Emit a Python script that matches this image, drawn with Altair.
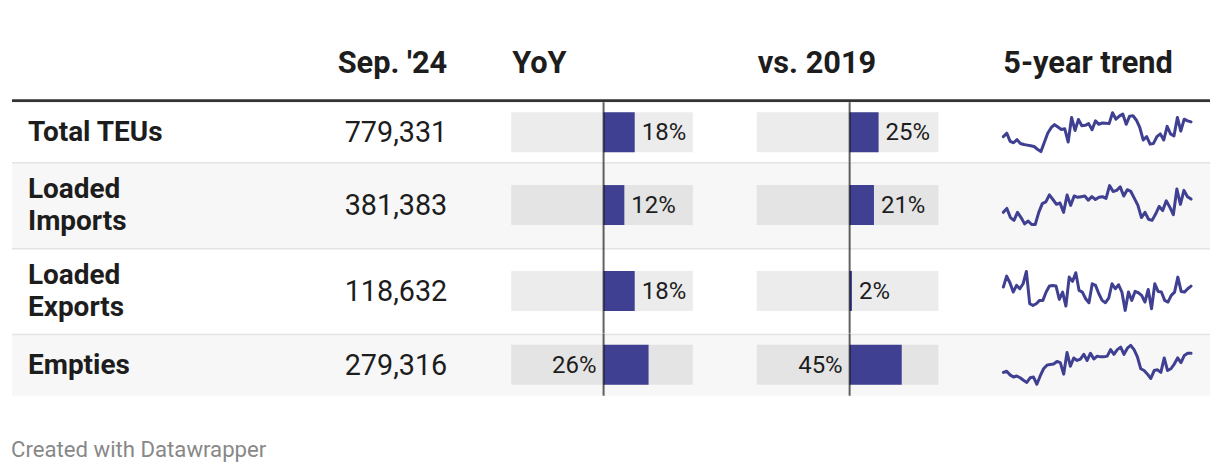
import altair as alt
import pandas as pd

# ---------------- data ----------------
rows = ["Total TEUs", "Loaded\nImports", "Loaded\nExports", "Empties"]
sep24 = [779331, 381383, 118632, 279316]
yoy = [18, 12, 18, 26]
vs2019 = [25, 21, 2, 45]
headers = ["Sep. '24", "YoY", "vs. 2019", "5-year trend"]
footer = "Created with Datawrapper"

# monthly TEUs (thousands), read from the sparklines
trend_total = [650, 680, 608, 596, 623, 590, 581, 575, 569, 563, 539, 518, 599, 680,
               728, 755, 734, 713, 719, 602, 818, 704, 800, 746, 749, 764, 710, 788,
               758, 770, 767, 764, 860, 803, 830, 848, 758, 830, 833, 794, 728, 620,
               650, 584, 590, 650, 674, 620, 740, 674, 656, 818, 698, 803, 788, 779]
trend_imports = [320, 338, 296, 283, 320, 296, 267, 280, 264, 264, 320, 360, 368, 400,
                 379, 357, 363, 320, 400, 352, 395, 389, 392, 395, 376, 392, 379, 389,
                 392, 384, 443, 416, 421, 437, 395, 424, 416, 384, 352, 296, 320, 288,
                 283, 312, 347, 328, 373, 344, 309, 427, 357, 421, 392, 381]
trend_exports = [117.4, 130.6, 122.6, 111.4, 119.4, 115.4, 121.4, 136.2, 97.4, 95.4,
                 97.4, 101.4, 101.4, 111.4, 118.6, 119.4, 118.6, 102.6, 111.4, 94.6,
                 129.4, 124.2, 134.6, 113.4, 111.4, 103.4, 98.6, 121.4, 119.4, 109.4,
                 101.4, 98.6, 104.2, 121.4, 115.4, 120.2, 111.4, 89.4, 111.4, 101.4,
                 112.2, 110.6, 107.4, 99.4, 114.6, 91.4, 121.4, 112.2, 111.4, 101.4,
                 99.4, 107.4, 111.4, 129.4, 112.2, 111.4, 115.4, 118.6]
trend_empties = [215.7, 219.3, 207.3, 200.1, 203.7, 197.7, 189.3, 182.1, 197.7, 200.1,
                 176.1, 203.7, 227.7, 239.7, 242.1, 243.3, 251.7, 248.1, 209.7, 281.7,
                 236.1, 263.7, 255.3, 260.1, 275.7, 255.3, 279.3, 260.1, 269.7, 267.3,
                 267.3, 269.7, 291.3, 275.7, 291.3, 299.7, 275.7, 296.1, 305.7, 291.3,
                 267.3, 227.7, 221.7, 209.7, 195.3, 221.7, 224.1, 215.7, 263.7, 221.7,
                 227.7, 243.3, 263.7, 248.1, 272.1, 279.3, 279.3]
trends = [trend_total, trend_imports, trend_exports, trend_empties]

# ---------------- layout / style ----------------
W = 1200
ROW_H = [60, 86, 86, 62]
ROW_FILL = ["#ffffff", "#f7f7f7", "#ffffff", "#f7f7f7"]
BAR = "#3f4091"
TXT = "#1d1d1d"
FONT = "Roboto"
LINE_H = 32
YOY_DOMAIN = [-53.4, 51.6]
YOY_RANGE = [500, 682]
VS_DOMAIN = [-80.2, 76.7]
VS_RANGE = [746, 928]
SPARK_RANGE = [993, 1181]
LABEL_W = 46  # approx. pixel width of a percent label


def fits_right(v, domain, rng):
    ppu = (rng[1] - rng[0]) / (domain[1] - domain[0])
    return (v - domain[0]) * ppu + 7 + LABEL_W <= (rng[1] - rng[0])


def bar_layers(df, field, domain, rng, H):
    sc = alt.Scale(domain=domain, range=rng, zero=False, nice=False)
    ytop, ybot = H / 2 - 20, H / 2 + 20
    bg = alt.Chart(df).mark_rect(color="#000000", opacity=0.075).encode(
        x=alt.X("lo:Q", scale=sc, axis=None), x2="hi:Q",
        y=alt.value(ytop), y2=alt.value(ybot))
    bar = alt.Chart(df).mark_rect(color=BAR).encode(
        x=alt.X(f"{field}:Q", scale=sc, axis=None), x2="zero:Q",
        y=alt.value(ytop), y2=alt.value(ybot))
    zero = alt.Chart(df).mark_rule(color="#000000", opacity=0.62, strokeWidth=2).encode(
        x=alt.X("zero:Q", scale=sc, axis=None), y=alt.value(0), y2=alt.value(H))
    lab_r = alt.Chart(df).transform_filter(f"datum.{field}_right").mark_text(
        align="left", baseline="middle", dx=7, font=FONT, fontSize=24, color=TXT).encode(
        x=alt.X(f"{field}:Q", scale=sc, axis=None), y=alt.value(H / 2 + 1),
        text=f"{field}_lab:N")
    lab_l = alt.Chart(df).transform_filter(f"!datum.{field}_right").mark_text(
        align="right", baseline="middle", dx=-7, font=FONT, fontSize=24, color=TXT).encode(
        x=alt.X("zero:Q", scale=sc, axis=None), y=alt.value(H / 2 + 1),
        text=f"{field}_lab:N")
    return [bg, bar, zero, lab_r, lab_l]


# ---------------- header ----------------
hdf = pd.DataFrame({"h0": [headers[0]], "h1": [headers[1]], "h2": [headers[2]], "h3": [headers[3]]})
hbase = alt.Chart(hdf)
HY = 56
htxt = dict(baseline="middle", font=FONT, fontSize=30.8, fontWeight="bold", color=TXT)
header = alt.layer(
    hbase.mark_text(align="right", **htxt).encode(x=alt.value(436), y=alt.value(HY), text="h0:N"),
    hbase.mark_text(align="left", **htxt).encode(x=alt.value(YOY_RANGE[0] + 1), y=alt.value(HY), text="h1:N"),
    hbase.mark_text(align="left", **htxt).encode(x=alt.value(VS_RANGE[0] + 1), y=alt.value(HY), text="h2:N"),
    hbase.mark_text(align="left", **htxt).encode(x=alt.value(SPARK_RANGE[0]), y=alt.value(HY), text="h3:N"),
    hbase.mark_rule(color="#333333", strokeWidth=3).encode(
        x=alt.value(0), x2=alt.value(W), y=alt.value(92.5)),
).properties(width=W, height=94)

# ---------------- body rows ----------------
row_charts = []
for i in range(len(rows)):
    H = ROW_H[i]
    n_lines = rows[i].count("\n") + 1
    label_y = H / 2 + 1 - (n_lines - 1) * LINE_H / 2
    df = pd.DataFrame({
        "row": [rows[i]],
        "val": [sep24[i]],
        "yoy": [yoy[i]],
        "yoy_lab": [f"{yoy[i]}%"],
        "yoy_right": [fits_right(yoy[i], YOY_DOMAIN, YOY_RANGE)],
        "vs": [vs2019[i]],
        "vs_lab": [f"{vs2019[i]}%"],
        "vs_right": [fits_right(vs2019[i], VS_DOMAIN, VS_RANGE)],
        "zero": [0],
    })
    df_yoy = df.assign(lo=YOY_DOMAIN[0], hi=YOY_DOMAIN[1])
    df_vs = df.assign(lo=VS_DOMAIN[0], hi=VS_DOMAIN[1])

    layers = []
    if i > 0:
        layers.append(alt.Chart(df).mark_rule(color="#e4e4e4", strokeWidth=1.5).encode(
            x=alt.value(0), x2=alt.value(W), y=alt.value(0.75)))
    layers.append(alt.Chart(df).mark_text(
        align="left", baseline="middle", font=FONT, fontSize=28, fontWeight="bold",
        color=TXT, lineBreak="\n", lineHeight=LINE_H).encode(
        x=alt.value(16), y=alt.value(label_y), text="row:N"))
    layers.append(alt.Chart(df).mark_text(
        align="right", baseline="middle", font=FONT, fontSize=28.8, color=TXT).encode(
        x=alt.value(436), y=alt.value(H / 2 + 1), text=alt.Text("val:Q", format=",d")))
    layers += bar_layers(df_yoy, "yoy", YOY_DOMAIN, YOY_RANGE, H)
    layers += bar_layers(df_vs, "vs", VS_DOMAIN, VS_RANGE, H)

    sdf = pd.DataFrame({"m": list(range(len(trends[i]))), "v": trends[i]})
    layers.append(alt.Chart(sdf).mark_line(
        color=BAR, strokeWidth=3, strokeJoin="round", strokeCap="round").encode(
        x=alt.X("m:Q", scale=alt.Scale(range=SPARK_RANGE, zero=False, nice=False), axis=None),
        y=alt.Y("v:Q", scale=alt.Scale(range=[H / 2 + 19.5, H / 2 - 19.5], zero=False, nice=False),
                axis=None)))

    rc = alt.layer(*layers, view=alt.ViewBackground(fill=ROW_FILL[i], strokeWidth=0)).resolve_scale(
        x="independent", y="independent").properties(width=W, height=H)
    row_charts.append(rc)

# ---------------- footer ----------------
fdf = pd.DataFrame({"t": [footer]})
foot = alt.Chart(fdf).mark_text(
    align="left", baseline="middle", font=FONT, fontSize=22.2, color="#888888").encode(
    x=alt.value(-1), y=alt.value(54), text="t:N").properties(width=W, height=68)

chart = alt.vconcat(header, *row_charts, foot, spacing=0, bounds="flush").properties(
    padding={"left": 2, "top": 0, "right": 0, "bottom": 0},
    background="#ffffff",
).configure_view(strokeWidth=0)

chart.save("out.html", embed_options={"renderer": "svg", "actions": False})
